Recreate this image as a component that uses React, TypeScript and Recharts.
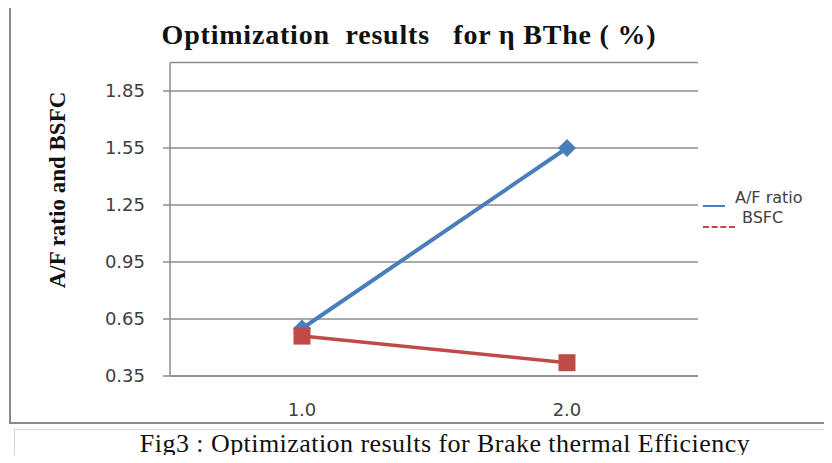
import { LineChart, Line, XAxis, YAxis, CartesianGrid } from 'recharts';

const categories = ['1.0', '2.0'];
const afRatio = [0.6, 1.55];
const bsfc = [0.56, 0.42];
const yTicks = [0.35, 0.65, 0.95, 1.25, 1.55, 1.85];

const data = categories.map((c, i) => ({ c, af: afRatio[i], bsfc: bsfc[i] }));

const BLUE = '#4a7ebb';
const RED = '#be4b48';
const GRID = '#8c8c8c';
const TICK_FONT = '"DejaVu Sans", sans-serif';

const Diamond = (props: any) => {
    const { cx, cy } = props;
    if (cx == null || cy == null) return null;
    const r = 9;
    return <path d={`M${cx},${cy - r} L${cx + r},${cy} L${cx},${cy + r} L${cx - r},${cy} Z`} fill={BLUE} />;
};

const Square = (props: any) => {
    const { cx, cy } = props;
    if (cx == null || cy == null) return null;
    const s = 8.5;
    return <rect x={cx - s} y={cy - s} width={s * 2} height={s * 2} fill={RED} />;
};

// legend sits outside the chart so it doesn't eat plot space
const LegendBox = () => (
    <div style={{ position: 'absolute', left: 700, top: 186, width: 132, height: 50, fontFamily: TICK_FONT, fontSize: 16, color: '#404040' }}>
        <div style={{ position: 'absolute', left: 3, top: 19, width: 22, borderTop: `2px solid ${BLUE}` }} />
        <div style={{ position: 'absolute', left: 35, top: 2 }}>A/F ratio</div>
        <div style={{ position: 'absolute', left: 3, top: 40, width: 32, borderTop: `2px dashed ${RED}` }} />
        <div style={{ position: 'absolute', left: 42, top: 22 }}>BSFC</div>
    </div>
);

export default function App() {
    return (
        <div style={{ position: 'relative', margin: -8, width: 832, height: 463, overflow: 'hidden', background: '#fff' }}>
            <div style={{ position: 'absolute', left: 9, top: 4, width: 840, height: 416, border: '2px solid #8a8a8a' }} />
            <div style={{ position: 'absolute', left: 14, top: 429, width: 840, height: 60, border: '1px solid #c9d6e6' }} />
            <div style={{ position: 'absolute', left: 0, width: 832, top: 429, textAlign: 'center', paddingLeft: 58, boxSizing: 'border-box', fontFamily: '"Liberation Serif", serif', fontSize: 26, letterSpacing: 0.45, color: '#111' }}>
                Fig3 : Optimization results for Brake thermal Efficiency
            </div>
            <div style={{ position: 'absolute', left: 0, width: 818, top: 19, textAlign: 'center', fontFamily: '"Liberation Serif", serif', fontWeight: 'bold', fontSize: 28, letterSpacing: 0.8, color: '#111', whiteSpace: 'pre' }}>
                {'Optimization  results   for η BThe ( %)'}
            </div>
            <div style={{ position: 'absolute', left: 58, top: 190, transform: 'translate(-50%, -50%) rotate(-90deg)', whiteSpace: 'nowrap', fontFamily: '"Liberation Serif", serif', fontWeight: 'bold', fontSize: 23, color: '#111' }}>
                A/F ratio and BSFC
            </div>
            <LegendBox />
            <div style={{ position: 'absolute', left: 0, top: 0 }}>
                <LineChart width={832} height={463} data={data} margin={{ top: 62.5, right: 134, bottom: 57, left: 110 }}>
                    <CartesianGrid horizontal vertical={false} stroke={GRID} strokeWidth={1.5} />
                    <XAxis
                        dataKey="c"
                        type="category"
                        padding={{ left: 132, right: 131 }}
                        height={30}
                        tickSize={0}
                        tickMargin={27}
                        axisLine={{ stroke: GRID, strokeWidth: 1.5 }}
                        tickLine={false}
                        tick={{ fill: '#404040', fontSize: 18, fontFamily: TICK_FONT }}
                    />
                    <YAxis
                        type="number"
                        domain={[0.35, 2.0]}
                        ticks={yTicks}
                        tickFormatter={(v: number) => v.toFixed(2)}
                        width={60}
                        tickSize={7}
                        tickMargin={18}
                        axisLine={{ stroke: GRID, strokeWidth: 1.5 }}
                        tickLine={{ stroke: GRID, strokeWidth: 1.5 }}
                        tick={{ fill: '#404040', fontSize: 18, fontFamily: TICK_FONT }}
                    />
                    <Line dataKey="af" name="A/F ratio" stroke={BLUE} strokeWidth={4} dot={<Diamond />} isAnimationActive={false} />
                    <Line dataKey="bsfc" name="BSFC" stroke={RED} strokeWidth={3.5} dot={<Square />} isAnimationActive={false} />
                </LineChart>
            </div>
        </div>
    );
}
